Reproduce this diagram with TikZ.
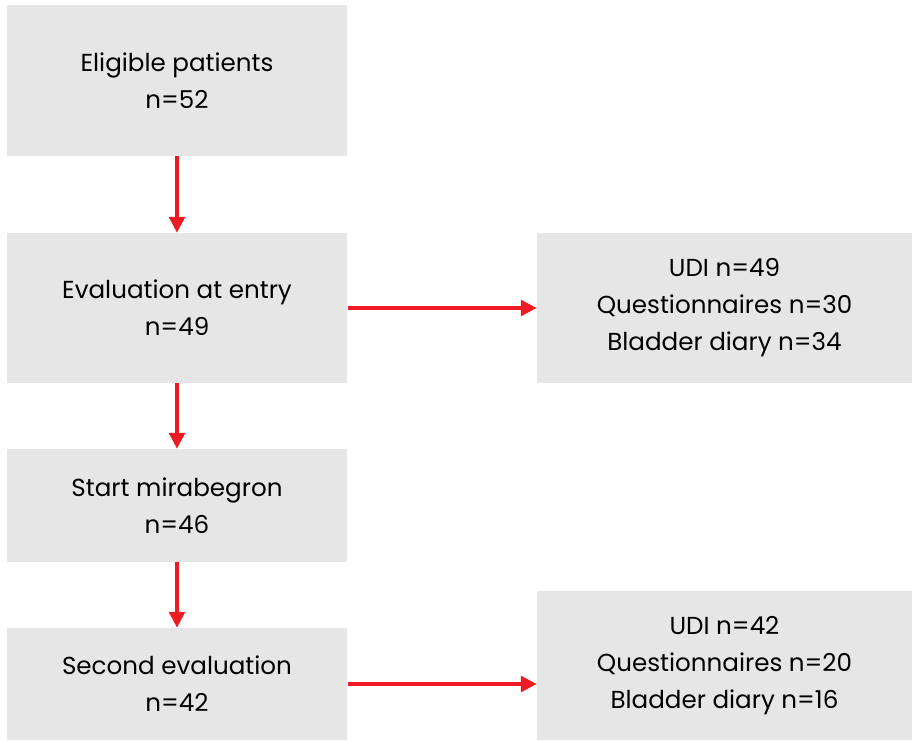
\documentclass[tikz,border=0pt]{standalone}
\usepackage{fontspec}
\setmainfont{Poppins}
\usetikzlibrary{arrows.meta}
\definecolor{boxgray}{RGB}{230,230,230}
\definecolor{flowred}{RGB}{237,28,36}
\begin{document}
\begin{tikzpicture}[x=0.02cm, y=-0.02cm,
    box/.style={fill=boxgray, inner sep=0pt, align=center, font=\fontsize{14}{21}\selectfont},
    leftbox/.style={box, minimum width=6.82cm},
    rightbox/.style={box, minimum width=7.5cm},
    arrow/.style={-{Triangle[length=9pt, width=9pt]}, line width=1.8pt, flowred}
]
\useasboundingbox (0,0) rectangle (912,740);

% Main flow (left)
\node[leftbox, minimum height=3.02cm] (eligible) at (177,80.5) {Eligible patients\\n=52};
\node[leftbox, minimum height=3.0cm] (entry) at (177,308) {Evaluation at entry\\n=49};
\node[leftbox, minimum height=2.26cm] (start) at (177,505.5) {Start mirabegron\\n=46};
\node[leftbox, minimum height=2.24cm] (second) at (177,684) {Second evaluation\\n=42};

% Results (right)
\node[rightbox, minimum height=3.0cm] (res1) at (724.5,308) {UDI n=49\\Questionnaires n=30\\Bladder diary n=34};
\node[rightbox, minimum height=2.98cm] (res2) at (724.5,665.5) {UDI n=42\\Questionnaires n=20\\Bladder diary n=16};

% Arrows
\draw[arrow] (eligible) -- (entry);
\draw[arrow] (entry) -- (start);
\draw[arrow] (start) -- (second);
\draw[arrow] (entry) -- (res1);
\draw[arrow] (second.east) -- (second.east -| res2.west);
\end{tikzpicture}
\end{document}
